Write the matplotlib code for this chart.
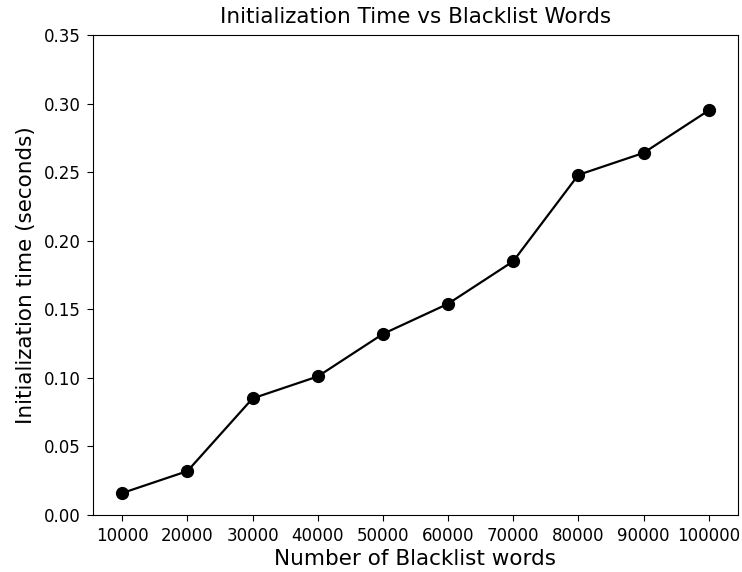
import matplotlib

matplotlib.use("Agg")
import matplotlib.pyplot as plt

blacklist_words = [10000, 20000, 30000, 40000, 50000, 60000, 70000, 80000, 90000, 100000]
init_time = [0.016, 0.032, 0.085, 0.101, 0.132, 0.154, 0.185, 0.248, 0.264, 0.295]


def main() -> None:
    fig = plt.figure(figsize=(7.42, 5.72), dpi=100)
    ax = fig.add_axes([0.1253, 0.0997, 0.8693, 0.8391])

    ax.plot(blacklist_words, init_time, "k-o", lw=1.6, ms=8.5)

    ax.set_title("Initialization Time vs Blacklist Words", fontsize=15.5, pad=9)
    ax.set_xlabel("Number of Blacklist words", fontsize=15.5, labelpad=3)
    ax.set_ylabel("Initialization time (seconds)", fontsize=15.5, labelpad=6)
    ax.set_xticks(blacklist_words)
    ax.tick_params(labelsize=12, length=4.3, pad=4.5)
    ax.set_ylim(0, 0.35)

    fig.savefig("out.png", dpi=100)


if __name__ == "__main__":
    main()
